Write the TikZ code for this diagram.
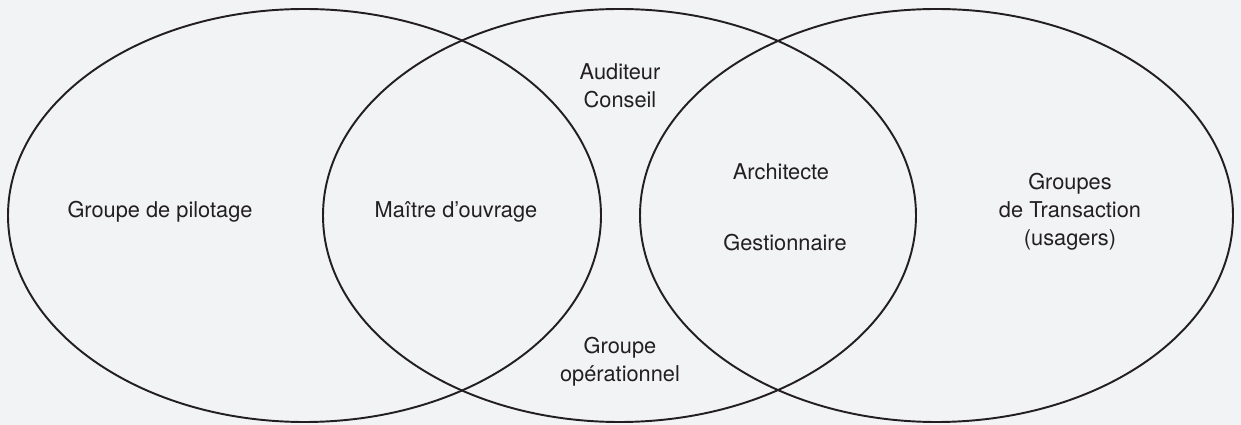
\documentclass[tikz,border=0pt]{standalone}
\usepackage{fontspec}
\setmainfont{TeX Gyre Heros}
\definecolor{bggray}{RGB}{242, 243, 245}
\definecolor{inkdark}{RGB}{35, 31, 32}
\definecolor{txtdark}{RGB}{35, 31, 32}
\usetikzlibrary{positioning}

\begin{document}
\begin{tikzpicture}[x=0.02cm, y=-0.02cm,
    lbl/.style={font=\fontsize{12.4}{15.9}\selectfont, text=txtdark, align=center, inner sep=0pt},
    ring/.style={draw=inkdark, line width=1.1pt}]
  % background
  \fill[bggray] (0, 0) rectangle (1241, 425);
  \useasboundingbox (0, 0) rectangle (1241, 425);

  % three ellipses
  \draw[ring] (304.5, 215.5) ellipse [x radius=296.5, y radius=206.5];
  \draw[ring] (619.5, 215.5) ellipse [x radius=296.5, y radius=206.5];
  \draw[ring] (936.5, 215.5) ellipse [x radius=296.5, y radius=206.5];

  % left ellipse
  \node[lbl] (pilot) at (160, 212) {Groupe de pilotage};

  % left overlap
  \node[lbl] (moa) at (456, 212) {Maître d’ouvrage};

  % middle ellipse, top and bottom
  \node[lbl] (audit) at (620, 86) {Auditeur\\Conseil};
  \node[lbl] (oper) at (620, 362) {Groupe\\opérationnel};

  % right overlap
  \node[lbl] (archi) at (781, 172) {Architecte};
  \node[lbl] (gest) at (785, 243) {Gestionnaire};

  % right ellipse
  \node[lbl] (trans) at (1070, 212) {Groupes\\de Transaction\\(usagers)};
\end{tikzpicture}
\end{document}
